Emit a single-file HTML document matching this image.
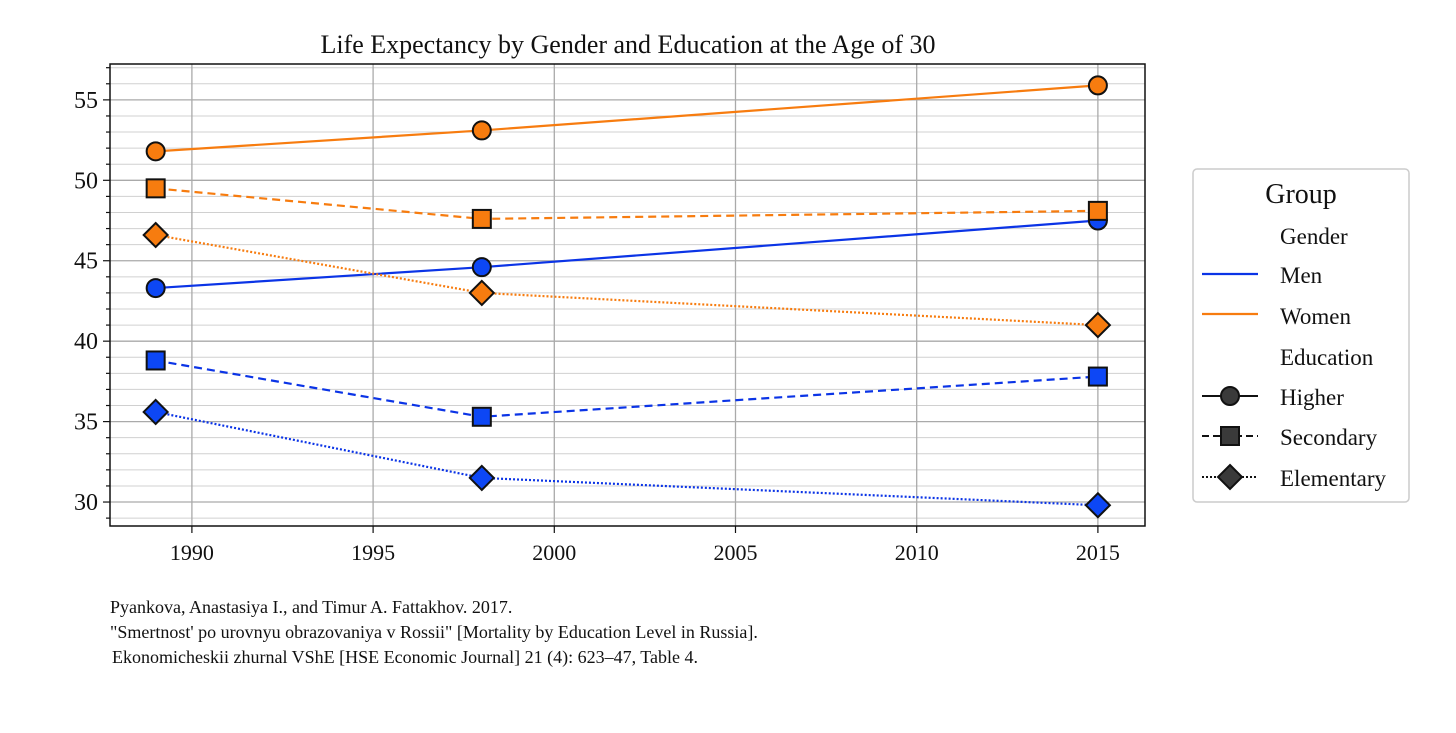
<!DOCTYPE html>
<html><head><meta charset="utf-8"><style>
body{margin:0;background:#fff;width:1456px;height:728px;overflow:hidden;font-family:"Liberation Serif",serif;}
text{font-family:"Liberation Serif",serif;fill:#111;}
</style></head><body>
<svg id="chart" width="1456" height="728">
<text x="628" y="53" font-size="26" text-anchor="middle">Life Expectancy by Gender and Education at the Age of 30</text>
<g id="grid"></g><g id="series"></g><g id="axes"></g>
<g>
<rect x="1193" y="169" width="216" height="333" rx="4" fill="#fff" stroke="#ccc" stroke-width="1.5"/>
<text x="1301" y="203" font-size="28" text-anchor="middle">Group</text>
<text x="1280" y="244" font-size="23">Gender</text>
<line x1="1202" y1="274" x2="1258" y2="274" stroke="#0b34e6" stroke-width="2.2"/>
<text x="1280" y="283" font-size="23">Men</text>
<line x1="1202" y1="314" x2="1258" y2="314" stroke="#f77c0f" stroke-width="2.2"/>
<text x="1280" y="324" font-size="23">Women</text>
<text x="1280" y="365" font-size="23">Education</text>
<line x1="1202" y1="396" x2="1258" y2="396" stroke="#111" stroke-width="2"/>
<circle cx="1230" cy="396" r="9" fill="#3a3a3a" stroke="#111" stroke-width="2"/>
<text x="1280" y="405" font-size="23">Higher</text>
<line x1="1202" y1="436" x2="1258" y2="436" stroke="#111" stroke-width="2" stroke-dasharray="7,4"/>
<rect x="1221" y="427" width="18" height="18" fill="#3a3a3a" stroke="#111" stroke-width="2"/>
<text x="1280" y="445" font-size="23">Secondary</text>
<line x1="1202" y1="477" x2="1258" y2="477" stroke="#111" stroke-width="2" stroke-dasharray="2,2"/>
<polygon points="1230,465 1242,477 1230,489 1218,477" fill="#3a3a3a" stroke="#111" stroke-width="2"/>
<text x="1280" y="486" font-size="23">Elementary</text>
</g>
<g font-size="18">
<text x="110" y="613">Pyankova, Anastasiya I., and Timur A. Fattakhov. 2017.</text>
<text x="110" y="638">"Smertnost' po urovnyu obrazovaniya v Rossii" [Mortality by Education Level in Russia].</text>
<text x="112" y="663">Ekonomicheskii zhurnal VShE [HSE Economic Journal] 21 (4): 623–47, Table 4.</text>
</g>
</svg>
<script>
const years=[1989,1998,2015];
const menHigher=[43.3,44.6,47.5];
const menSecondary=[38.8,35.3,37.8];
const menElementary=[35.6,31.5,29.8];
const womenHigher=[51.8,53.1,55.9];
const womenSecondary=[49.5,47.6,48.1];
const womenElementary=[46.6,43.0,41.0];
const xTicks=[1990,1995,2000,2005,2010,2015];
const yTicks=[30,35,40,45,50,55];
const L=110,R=1145,T=64,B=526;
const x0=1987.74,x1=2016.3,y0=28.51,y1=57.23;
const X=v=>L+(v-x0)/(x1-x0)*(R-L);
const Y=v=>B-(v-y0)/(y1-y0)*(B-T);
const NS="http://www.w3.org/2000/svg";
function mk(tag,attrs,parent){const e=document.createElementNS(NS,tag);for(const k in attrs)e.setAttribute(k,attrs[k]);parent.appendChild(e);return e;}
const grid=document.getElementById('grid'),axes=document.getElementById('axes'),ser=document.getElementById('series');
for(let v=Math.ceil(y0);v<=y1;v++){
 const l=mk('line',{x1:L,x2:R,y1:Y(v),y2:Y(v),stroke:v%5===0?'#aaa':'#d0d0d0','stroke-width':v%5===0?1.3:1},grid);
 
 
 mk('line',{x1:L-(v%5===0?7:4),x2:L,y1:Y(v),y2:Y(v),stroke:'#111','stroke-width':1.2},axes);
}
xTicks.forEach(t=>{
 const l=mk('line',{x1:X(t),x2:X(t),y1:T,y2:B,stroke:'#aaa','stroke-width':1.3},grid);
 
 
 mk('line',{x1:X(t),x2:X(t),y1:B,y2:B+7,stroke:'#111','stroke-width':1.2},axes);
 const tx=mk('text',{x:X(t),y:B+34,'font-size':22,'text-anchor':'middle'},axes);tx.textContent=t;
 
 
});
yTicks.forEach(t=>{
 const tx=mk('text',{x:L-12,y:Y(t)+8,'font-size':24,'text-anchor':'end'},axes);tx.textContent=t;
 
 
});
const fr=mk('rect',{x:L,y:T,width:R-L,height:B-T,fill:'none',stroke:'#111','stroke-width':1.5},axes);


const defs=[
 [menHigher,'#0b34e6','none','circle','men-higher'],
 [menSecondary,'#0b34e6','8,5','square','men-secondary'],
 [menElementary,'#0b34e6','2,2','diamond','men-elementary'],
 [womenHigher,'#f77c0f','none','circle','women-higher'],
 [womenSecondary,'#f77c0f','8,5','square','women-secondary'],
 [womenElementary,'#f77c0f','2,2','diamond','women-elementary']];
defs.forEach(([vals,c,dash,shape,name])=>{
 const pl=mk('polyline',{points:vals.map((v,i)=>X(years[i])+','+Y(v)).join(' '),fill:'none',stroke:c,'stroke-width':2.2,'stroke-dasharray':dash},ser);
 
 
 const fill=c==='#0b34e6'?'#0d47f5':'#f77c0f';
 vals.forEach((v,i)=>{
  const cx=X(years[i]),cy=Y(v);let m;
  if(shape==='circle')m=mk('circle',{cx,cy,r:9,fill,stroke:'#111','stroke-width':2},ser);
  else if(shape==='square')m=mk('rect',{x:cx-9,y:cy-9,width:18,height:18,fill,stroke:'#111','stroke-width':2},ser);
  else m=mk('polygon',{points:`${cx},${cy-12} ${cx+12},${cy} ${cx},${cy+12} ${cx-12},${cy}`,fill,stroke:'#111','stroke-width':2},ser);
  
  
 });
});
</script>
</body></html>
